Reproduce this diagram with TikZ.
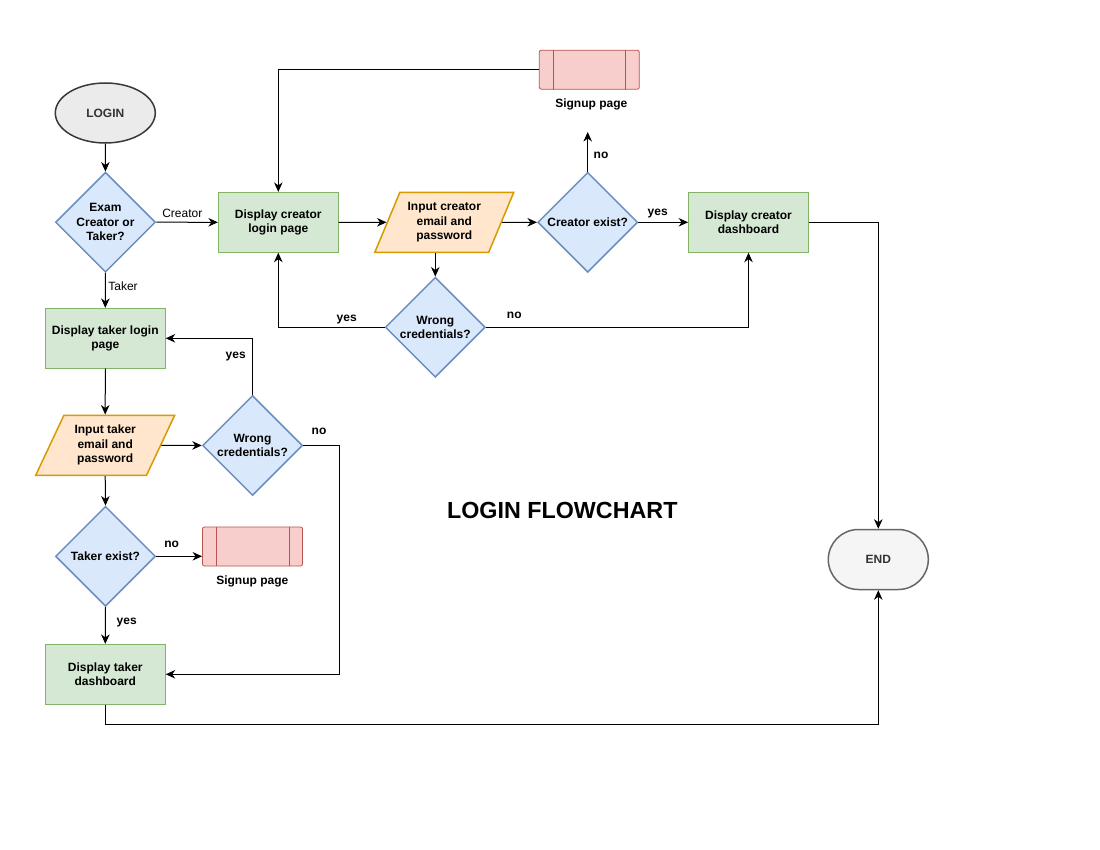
\documentclass[tikz,border=0pt]{standalone}
\usepackage{fontspec}
\setmainfont{Liberation Sans}
\usetikzlibrary{shapes.geometric,shapes.misc,arrows.meta}
\definecolor{gfill}{HTML}{D5E8D4}\definecolor{gline}{HTML}{82B366}
\definecolor{bfill}{HTML}{DAE8FC}\definecolor{bline}{HTML}{6C8EBF}
\definecolor{ofill}{HTML}{FFE6CC}\definecolor{oline}{HTML}{D79B00}
\definecolor{rfill}{HTML}{F8CECC}\definecolor{rline}{HTML}{B85450}
\definecolor{lgfill}{HTML}{EBEBEB}\definecolor{lgline}{HTML}{36393D}
\definecolor{efill}{HTML}{F5F5F5}\definecolor{eline}{HTML}{666666}
\definecolor{etext}{HTML}{333333}
\tikzset{
  txt/.style={font=\fontsize{12}{14.5}\selectfont\bfseries, align=center, text=black},
  lbl/.style={font=\fontsize{12}{14.5}\selectfont\bfseries, inner sep=1pt, text height=8.6pt, text depth=2.5pt, yshift=-1.5pt},
  lblr/.style={font=\fontsize{12}{14.5}\selectfont, inner sep=1pt, text height=8.6pt, text depth=2.5pt, yshift=-1.5pt},
  procbox/.style={txt, rectangle, draw=gline, fill=gfill, line width=0.8pt, minimum width=120pt, minimum height=60pt, inner sep=0pt},
  decbox/.style={shape=diamond, draw=bline, fill=bfill, line width=1.5pt, minimum width=100pt, minimum height=100pt, inner sep=0pt, shape aspect=1},
  iobox/.style={txt, trapezium, trapezium stretches=true, trapezium left angle=62.5, trapezium right angle=117.5, minimum width=139pt, minimum height=60pt, draw=oline, fill=ofill, line width=1.5pt, inner sep=0pt},
  subbox/.style={rectangle, rounded corners=2pt, draw=rline, fill=rfill, line width=0.8pt, minimum width=100pt, minimum height=39pt, inner sep=0pt},
  arr/.style={-{Stealth[length=9.5pt,width=8.5pt,inset=3pt]}, line width=1pt, black},
}
\begin{document}
\begin{tikzpicture}[x=1pt,y=-1pt]
\useasboundingbox (0,0) rectangle (1100,850);
\fill[white] (0,0) rectangle (1100,850);
% nodes
\node[ellipse, draw=lgline, fill=lgfill, line width=1.5pt, minimum width=100pt, minimum height=60pt, inner sep=0pt, font=\fontsize{12}{14.5}\selectfont\bfseries, text=etext] (login) at (105.3,113) {LOGIN};
\node[decbox, label={[txt]center:Exam\\Creator or\\Taker?}] (d1) at (105.5,222.2) {};
\node[procbox] (dcl) at (278.3,222.3) {Display creator\\login page};
\node[iobox] (pc) at (444.3,222.3) {Input creator\\email and\\password};
\node[decbox, label={[txt]center:Creator exist?}] (ce) at (587.7,222.3) {};
\node[procbox] (dcd) at (748.5,222.3) {Display creator\\dashboard};
\node[decbox, label={[txt]center:Wrong\\credentials?}] (wc) at (435.3,327.3) {};
\node[subbox] (s1) at (589.3,69.7) {};
\draw[rline, line width=0.8pt] ([xshift=14pt]s1.north west) -- ([xshift=14pt]s1.south west)
  ([xshift=-14pt]s1.north east) -- ([xshift=-14pt]s1.south east);
\node[lbl] (s1l) at (591.3,102.7) {Signup page};
\coordinate (ceup) at (587.7,132);

\node[procbox] (dtl) at (105.3,338.3) {Display taker login\\page};
\node[iobox] (pt) at (105.2,445.3) {Input taker\\email and\\password};
\node[decbox, label={[txt]center:Wrong\\credentials?}] (wt) at (252.5,445.5) {};
\node[decbox, label={[txt]center:Taker exist?}] (te) at (105.5,556.3) {};
\node[subbox] (s2) at (252.5,546.5) {};
\draw[rline, line width=0.8pt] ([xshift=14pt]s2.north west) -- ([xshift=14pt]s2.south west)
  ([xshift=-14pt]s2.north east) -- ([xshift=-14pt]s2.south east);
\node[lbl] (s2l) at (252.3,580) {Signup page};
\node[procbox] (dtd) at (105.3,674.3) {Display taker\\dashboard};

\node[rounded rectangle, draw=eline, fill=efill, line width=1.5pt, minimum width=100pt, minimum height=60pt, inner sep=0pt, font=\fontsize{12}{14.5}\selectfont\bfseries, text=etext] (endn) at (878.3,559.5) {END};

\node[font=\fontsize{23.3}{26}\selectfont\bfseries, anchor=base, inner sep=0pt] (title) at (562.3,518.3) {LOGIN FLOWCHART};

% connectors
\draw[arr] (login) -- (d1);
\draw[arr] (d1.east) -- (dcl.west);
\draw[arr] (d1.south) -- (dtl.north);
\draw[arr] (dcl.east) -- (pc.west);
\draw[arr] (pc.east) -- (ce.west);
\draw[arr] (ce.east) -- (dcd.west);
\draw[arr] (ce.north) -- (ceup);
\draw[arr] (s1.west) -| (dcl.north);
\draw[arr] (wc.north |- pc.south) -- (wc.north);
\draw[arr] (wc.west) -| (dcl.south);
\draw[arr] (wc.east) -| (dcd.south);
\draw[arr] (dcd.east) -| (endn.north);

\draw[arr] (dtl.south) -- (pt.north);
\draw[arr] (pt.east) -- (wt.west);
\draw[arr] (wt.north) |- (dtl.east);
\draw[arr] (wt.east) -- ++(35.8,0) |- (dtd.east);
\draw[arr] (pt.south) -- (te.north);
\draw[arr] (te.east) -- (te.east -| s2.west);
\draw[arr] (te.south) -- (dtd.north);
\draw[arr] (dtd.south) -- ++(0,19.7) -| (endn.south);

% edge labels
\node[lblr] (l1) at (182.3,212.7) {Creator};
\node[lblr] (l2) at (123,285.7) {Taker};
\node[lbl] (l3) at (601,154) {no};
\node[lbl] (l4) at (657.7,211) {yes};
\node[lbl] (l5) at (346.7,316.7) {yes};
\node[lbl] (l6) at (514.3,314) {no};
\node[lbl] (l7) at (235.7,354.3) {yes};
\node[lbl] (l8) at (319,430) {no};
\node[lbl] (l9) at (171.7,543.3) {no};
\node[lbl] (l10) at (126.7,620) {yes};
\end{tikzpicture}
\end{document}
